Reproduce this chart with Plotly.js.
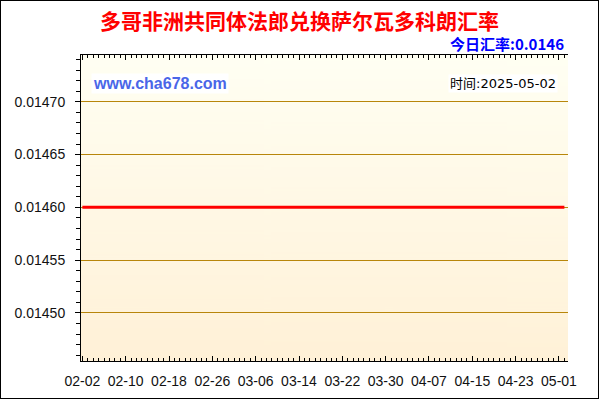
<!DOCTYPE html>
<html>
<head>
<meta charset="utf-8">
<script src="https://cdn.plot.ly/plotly-3.0.1.min.js"></script>
<style>
  body { margin: 0; background: #ffffff; }
  #myChart { width: 597px; height: 397px; border: 1px solid #000000; }
</style>
</head>
<body>
<div id="myChart"></div>
<script>
// daily rate, XOF -> SVC
const dates = [
    '2025-02-02', '2025-02-03', '2025-02-04', '2025-02-05', '2025-02-06', '2025-02-07', '2025-02-08',
    '2025-02-09', '2025-02-10', '2025-02-11', '2025-02-12', '2025-02-13', '2025-02-14', '2025-02-15',
    '2025-02-16', '2025-02-17', '2025-02-18', '2025-02-19', '2025-02-20', '2025-02-21', '2025-02-22',
    '2025-02-23', '2025-02-24', '2025-02-25', '2025-02-26', '2025-02-27', '2025-02-28', '2025-03-01',
    '2025-03-02', '2025-03-03', '2025-03-04', '2025-03-05', '2025-03-06', '2025-03-07', '2025-03-08',
    '2025-03-09', '2025-03-10', '2025-03-11', '2025-03-12', '2025-03-13', '2025-03-14', '2025-03-15',
    '2025-03-16', '2025-03-17', '2025-03-18', '2025-03-19', '2025-03-20', '2025-03-21', '2025-03-22',
    '2025-03-23', '2025-03-24', '2025-03-25', '2025-03-26', '2025-03-27', '2025-03-28', '2025-03-29',
    '2025-03-30', '2025-03-31', '2025-04-01', '2025-04-02', '2025-04-03', '2025-04-04', '2025-04-05',
    '2025-04-06', '2025-04-07', '2025-04-08', '2025-04-09', '2025-04-10', '2025-04-11', '2025-04-12',
    '2025-04-13', '2025-04-14', '2025-04-15', '2025-04-16', '2025-04-17', '2025-04-18', '2025-04-19',
    '2025-04-20', '2025-04-21', '2025-04-22', '2025-04-23', '2025-04-24', '2025-04-25', '2025-04-26',
    '2025-04-27', '2025-04-28', '2025-04-29', '2025-04-30', '2025-05-01', '2025-05-02'
];

const rates = [
    0.0146, 0.0146, 0.0146, 0.0146, 0.0146, 0.0146, 0.0146,
    0.0146, 0.0146, 0.0146, 0.0146, 0.0146, 0.0146, 0.0146,
    0.0146, 0.0146, 0.0146, 0.0146, 0.0146, 0.0146, 0.0146,
    0.0146, 0.0146, 0.0146, 0.0146, 0.0146, 0.0146, 0.0146,
    0.0146, 0.0146, 0.0146, 0.0146, 0.0146, 0.0146, 0.0146,
    0.0146, 0.0146, 0.0146, 0.0146, 0.0146, 0.0146, 0.0146,
    0.0146, 0.0146, 0.0146, 0.0146, 0.0146, 0.0146, 0.0146,
    0.0146, 0.0146, 0.0146, 0.0146, 0.0146, 0.0146, 0.0146,
    0.0146, 0.0146, 0.0146, 0.0146, 0.0146, 0.0146, 0.0146,
    0.0146, 0.0146, 0.0146, 0.0146, 0.0146, 0.0146, 0.0146,
    0.0146, 0.0146, 0.0146, 0.0146, 0.0146, 0.0146, 0.0146,
    0.0146, 0.0146, 0.0146, 0.0146, 0.0146, 0.0146, 0.0146,
    0.0146, 0.0146, 0.0146, 0.0146, 0.0146, 0.0146
];

const x_range = ['2025-02-01 18:00', '2025-05-02 16:00'];
const y_range = [0.0144545, 0.0147443];

const chart_title = '多哥非洲共同体法郎兑换萨尔瓦多科朗汇率';
const today_text = '今日汇率:0.0146';
const site_text = 'www.cha678.com';
const time_text = '时间:2025-05-02';

// soft yellow gradient for the plot area
function make_bg(){
    const c = document.createElement('canvas');
    c.width = 4;
    c.height = 300;
    const ctx = c.getContext('2d');
    const g = ctx.createLinearGradient(0, 0, 0, 300);
    g.addColorStop(0, '#FFFFF3');
    g.addColorStop(1, '#FFF1D7');
    ctx.fillStyle = g;
    ctx.fillRect(0, 0, 4, 300);
    return c.toDataURL('image/png');
}

const trace1 = {
    x: dates,
    y: rates,
    type: 'scatter',
    mode: 'lines',
    line: { color: '#FF0000', width: 3 },
    hoverinfo: 'skip'
};

const tick_font = { family: 'Liberation Sans, Arial, sans-serif', size: 14, color: '#111111' };

const layout = {
    width: 597,
    height: 397,
    margin: { t: 54, b: 37, l: 80, r: 30 },
    paper_bgcolor: '#FFFFFF',
    plot_bgcolor: 'rgba(0,0,0,0)',
    showlegend: false,
    title: {
        text: chart_title,
        font: { family: 'Noto Sans CJK SC', size: 21, color: '#FF0000', weight: 'bold' },
        x: 0.5,
        xref: 'container',
        xanchor: 'center',
        y: 1 - 21 / 397,
        yref: 'container',
        yanchor: 'middle'
    },
    xaxis: {
        type: 'date',
        range: x_range,
        tick0: '2025-02-02',
        dtick: 8 * 86400000,
        tickformat: '%m-%d',
        ticks: 'inside',
        ticklen: 5,
        tickcolor: '#000000',
        showline: true,
        linecolor: '#000000',
        linewidth: 1,
        mirror: 'allticks',
        showgrid: false,
        zeroline: false,
        tickfont: tick_font,
        ticklabelstandoff: 7,
        minor: { dtick: 86400000, ticks: 'inside', ticklen: 3, tickcolor: '#000000', showgrid: false }
    },
    yaxis: {
        range: y_range,
        tick0: 0.0145,
        dtick: 0.00005,
        tickformat: '.5f',
        ticks: 'outside',
        ticklen: 5,
        tickcolor: '#000000',
        showline: true,
        linecolor: '#000000',
        linewidth: 1,
        gridcolor: '#B8860B',
        gridwidth: 1,
        zeroline: false,
        tickfont: tick_font,
        ticklabelstandoff: 7,
        minor: { dtick: 0.00001, ticks: 'outside', ticklen: 4, tickcolor: '#000000', showgrid: false }
    },
    yaxis2: {
        overlaying: 'y',
        side: 'right',
        range: y_range,
        tick0: 0.0145,
        dtick: 0.00005,
        ticks: 'inside',
        ticklen: 4,
        tickcolor: '#000000',
        showline: true,
        linecolor: '#000000',
        showticklabels: false,
        showgrid: false,
        zeroline: false,
        minor: { dtick: 0.00001, ticks: 'inside', ticklen: 3, tickcolor: '#000000', showgrid: false }
    },
    images: [{
        source: make_bg(),
        xref: 'paper',
        yref: 'paper',
        x: 0,
        y: 1,
        sizex: 1,
        sizey: 1,
        sizing: 'stretch',
        xanchor: 'left',
        yanchor: 'top',
        layer: 'below'
    }],
    annotations: [
        {
            text: today_text,
            xref: 'paper', yref: 'paper',
            x: 1, y: 1,
            xanchor: 'right', yanchor: 'middle',
            xshift: -2, yshift: 12,
            showarrow: false,
            font: { family: 'Noto Sans CJK SC, Liberation Sans', size: 15, color: '#0000FF', weight: 'bold' }
        },
        {
            text: site_text,
            xref: 'paper', yref: 'paper',
            x: 0, y: 1,
            xanchor: 'left', yanchor: 'middle',
            xshift: 10, yshift: -28,
            showarrow: false,
            bgcolor: '#FFFFFF',
            borderpad: 1,
            font: { family: 'Liberation Sans, Arial, sans-serif', size: 16, color: '#4A66E8', weight: 'bold' }
        },
        {
            text: time_text,
            xref: 'paper', yref: 'paper',
            x: 1, y: 1,
            xanchor: 'right', yanchor: 'middle',
            xshift: -10, yshift: -28,
            showarrow: false,
            bgcolor: '#FFFFFF',
            borderpad: 1,
            font: { family: 'DejaVu Sans, Noto Sans CJK SC', size: 13, color: '#000000' }
        }
    ],
    hovermode: false
};

Plotly.newPlot('myChart', [trace1], layout, { displayModeBar: false, staticPlot: true });
</script>
</body>
</html>
